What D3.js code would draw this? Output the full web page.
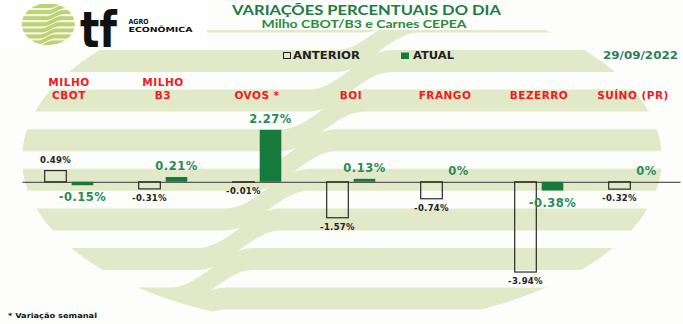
<!DOCTYPE html>
<html>
<head>
<meta charset="utf-8">
<script src="https://cdn.jsdelivr.net/npm/d3@7"></script>
<style>
  html, body { margin: 0; padding: 0; background: #ffffff; }
  svg { display: block; }
</style>
</head>
<body>
<svg id="chart" width="683" height="324"></svg>
<script>
// ---- data ----
const categories = ["MILHO\nCBOT", "MILHO\nB3", "OVOS *", "BOI", "FRANGO", "BEZERRO", "SUÍNO (PR)"];
const anterior = [0.49, -0.31, -0.01, -1.57, -0.74, -3.94, -0.32];
const atual = [-0.15, 0.21, 2.27, 0.13, 0, -0.38, 0];
const seriesNames = ["ANTERIOR", "ATUAL"];
const titleText = "VARIAÇÕES PERCENTUAIS DO DIA";
const subtitleText = "Milho CBOT/B3 e Carnes CEPEA";
const dateText = "29/09/2022";
const footnoteText = "* Variação semanal";
const brandMark = "tf";
const brandWords = ["AGRO", "ECONÔMICA"];

// ---- style ----
const W = 683, H = 324;
const RED = "#ec1c24";
const GREEN_BAR = "#157a3c";
const GREEN_TEXT = "#2a8a5a";
const TITLE_GREEN = "#1d7a45";
const PALE = "#e2e9c8";
const FONT = "'DejaVu Sans', Verdana, sans-serif";
const HFONT = "Lato, 'Open Sans', sans-serif";

const svg = d3.select("#chart");
const defs = svg.append("defs");

svg.append("rect").attr("width", W).attr("height", H).attr("fill", "#fdfefb");

// ---- striped watermark (brand pattern) ----
// one stripe: flat on the left, rising by one period through a smooth S-bend
function stripePath(yL, period, thick, xc, w, x0, x1, step) {
  const s = t => t <= -1 ? 0 : t >= 1 ? 1 : (1 - Math.cos(Math.PI * (t + 1) / 2)) / 2;
  const xs = d3.range(x0, x1 + step, step);
  const top = xs.map(x => [x, yL - period * s((x - xc) / w)]);
  const bot = xs.slice().reverse().map(x => [x, yL + thick - period * s((x - xc) / w)]);
  return d3.line()(top.concat(bot)) + "Z";
}

defs.append("clipPath").attr("id", "wm-top")
  .append("rect").attr("x", 0).attr("y", 30).attr("width", W).attr("height", H);
defs.append("clipPath").attr("id", "wm-disc")
  .append("ellipse").attr("cx", 342).attr("cy", 159).attr("rx", 320).attr("ry", 167);

const wm = svg.append("g").attr("clip-path", "url(#wm-top)")
  .append("g").attr("clip-path", "url(#wm-disc)");
{
  const period = 39.6, thick = 22;
  d3.range(-2, 9).forEach(k => {
    const yL = 50 + k * period;
    const xc = 378 - (yL - 50) * 0.7;
    wm.append("path")
      .attr("d", stripePath(yL, period, thick, xc, 42, 0, 690, 2))
      .attr("fill", PALE);
  });
}

// ---- header ----
svg.append("rect").attr("x", 0).attr("y", 0).attr("width", 207).attr("height", 47).attr("fill", "#ffffff");

// logo mark: small striped disc
defs.append("clipPath").attr("id", "logo-disc")
  .append("ellipse").attr("cx", 48.3).attr("cy", 24.2).attr("rx", 26.5).attr("ry", 21);
const logo = svg.append("g").attr("clip-path", "url(#logo-disc)");
logo.append("rect").attr("x", 20).attr("y", 2).attr("width", 57).attr("height", 45).attr("fill", "#f3f6e2");
{
  const period = 6.1, thick = 3.9;
  d3.range(-2, 9).forEach(k => {
    const yL = 4 + k * period;
    const xc = 52 - (yL - 24) * 0.35;
    logo.append("path")
      .attr("d", stripePath(yL, period, thick, xc, 9, 18, 80, 0.5))
      .attr("fill", "#bdd272");
  });
}

svg.append("text").attr("x", 80).attr("y", 46.5)
  .attr("font-family", FONT).attr("font-weight", "bold").attr("font-size", 50)
  .attr("textLength", 37).attr("lengthAdjust", "spacingAndGlyphs")
  .attr("fill", "#111").text(brandMark);
brandWords.forEach((w, i) => {
  svg.append("text").attr("x", 128.5).attr("y", 24 + i * 7.6)
    .attr("font-family", FONT).attr("font-weight", "bold").attr("font-size", 7)
    .attr("textLength", i === 0 ? 20 : 64).attr("lengthAdjust", "spacingAndGlyphs")
    .attr("fill", "#111").text(w);
});

svg.append("text").attr("x", 366.5).attr("y", 14.5).attr("text-anchor", "middle")
  .attr("font-family", HFONT).attr("font-weight", "bold").attr("font-size", 14)
  .attr("textLength", 269).attr("lengthAdjust", "spacingAndGlyphs")
  .attr("fill", TITLE_GREEN).text(titleText);
svg.append("text").attr("x", 364).attr("y", 27.5).attr("text-anchor", "middle")
  .attr("font-family", HFONT).attr("font-weight", "bold").attr("font-size", 11.5)
  .attr("textLength", 205).attr("lengthAdjust", "spacingAndGlyphs")
  .attr("fill", "#2b8b3c").text(subtitleText);

// ---- legend & date ----
const legend = svg.append("g");
legend.append("rect").attr("x", 283.5).attr("y", 52.5).attr("width", 7).attr("height", 6)
  .attr("fill", "none").attr("stroke", "#222").attr("stroke-width", 1);
legend.append("text").attr("x", 293).attr("y", 59)
  .attr("font-family", FONT).attr("font-weight", "bold").attr("font-size", 10.5)
  .attr("textLength", 67).attr("lengthAdjust", "spacingAndGlyphs")
  .attr("fill", "#222").text(seriesNames[0]);
legend.append("rect").attr("x", 401).attr("y", 52.5).attr("width", 8).attr("height", 6.5)
  .attr("fill", GREEN_BAR);
legend.append("text").attr("x", 413).attr("y", 59)
  .attr("font-family", FONT).attr("font-weight", "bold").attr("font-size", 10.5)
  .attr("textLength", 41).attr("lengthAdjust", "spacingAndGlyphs")
  .attr("fill", "#222").text(seriesNames[1]);

svg.append("text").attr("x", 678).attr("y", 58.5).attr("text-anchor", "end")
  .attr("font-family", FONT).attr("font-weight", "bold").attr("font-size", 10.5)
  .attr("textLength", 75).attr("lengthAdjust", "spacingAndGlyphs")
  .attr("fill", "#2e7d5b").text(dateText);

// ---- scales ----
const x0 = d3.scaleBand().domain(categories).range([22, 680]).paddingInner(0).paddingOuter(0);
const x1 = d3.scaleBand().domain(seriesNames).range([0, x0.bandwidth()])
  .paddingInner(0.2).paddingOuter(0.84);
const y = d3.scaleLinear().domain([-4, 2.5]).range([273.4, 124.55]);

const rows = categories.map((c, i) => ({ cat: c, values: [
  { key: seriesNames[0], v: anterior[i] },
  { key: seriesNames[1], v: atual[i] }
]}));

// category labels
const catG = svg.append("g");
categories.forEach(c => {
  const lines = c.split("\n");
  const cx = x0(c) + x0.bandwidth() / 2;
  const t = catG.append("text")
    .attr("text-anchor", "middle")
    .attr("font-family", FONT).attr("font-weight", "bold").attr("font-size", 10.5)
    .attr("letter-spacing", 0.5).attr("fill", RED);
  lines.forEach((ln, j) => {
    t.append("tspan").attr("x", cx)
      .attr("y", 99 - (lines.length - 1 - j) * 13.3).text(ln);
  });
});

// zero axis
svg.append("g").attr("transform", `translate(0,${y(0)})`)
  .call(d3.axisBottom(x0).tickSize(0).tickFormat(""))
  .call(g => g.select(".domain").attr("stroke", "#5a5a5a").attr("stroke-width", 1.3));

const fmt = v => v === 0 ? "0%" : v.toFixed(2) + "%";

const groups = svg.append("g").selectAll("g").data(rows).join("g")
  .attr("transform", d => `translate(${x0(d.cat)},0)`);

groups.selectAll("rect").data(d => d.values).join("rect")
  .attr("x", d => x1(d.key))
  .attr("width", x1.bandwidth())
  .attr("y", d => y(Math.max(0, d.v)))
  .attr("height", d => Math.abs(y(d.v) - y(0)))
  .attr("fill", d => d.key === seriesNames[1] ? GREEN_BAR : "none")
  .attr("stroke", d => d.key === seriesNames[1] ? "none" : "#2a2a2a")
  .attr("stroke-width", 1.2);

groups.selectAll("text").data(d => d.values).join("text")
  .attr("x", d => x1(d.key) + x1.bandwidth() / 2)
  .attr("y", d => {
    const isNow = d.key === seriesNames[1];
    if (d.v >= 0) return y(d.v) - (isNow ? 7 : 7.5);
    return y(d.v) + (isNow ? 16 : 12);
  })
  .attr("text-anchor", "middle")
  .attr("font-family", FONT).attr("font-weight", "bold")
  .attr("font-size", d => d.key === seriesNames[1] ? 11.5 : 8.5)
  .attr("letter-spacing", d => d.key === seriesNames[1] ? 0.5 : 0.3)
  .attr("fill", d => d.key === seriesNames[1] ? GREEN_TEXT : "#222")
  .text(d => fmt(d.v));

// footnote
svg.append("text").attr("x", 8).attr("y", 317.5)
  .attr("font-family", FONT).attr("font-weight", "bold").attr("font-size", 7)
  .attr("textLength", 89).attr("lengthAdjust", "spacingAndGlyphs")
  .attr("fill", "#111").text(footnoteText);
</script>
</body>
</html>
